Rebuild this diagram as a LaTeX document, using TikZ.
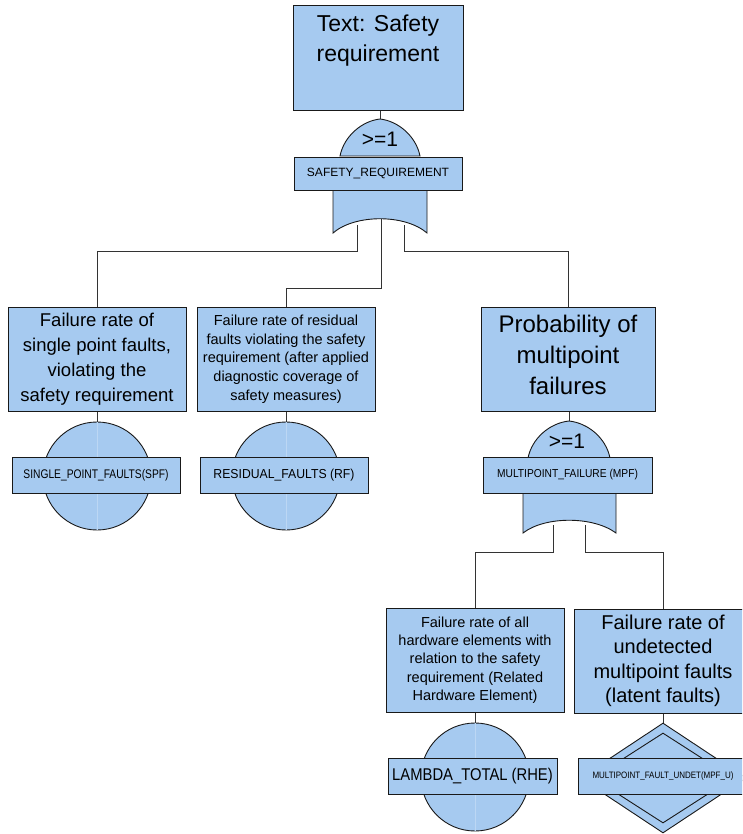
\documentclass[tikz,border=0pt]{standalone}
\usepackage{fontspec}
\usepackage{graphicx}
\setmainfont{Liberation Sans}
\usetikzlibrary{shapes.geometric,backgrounds}

\definecolor{gatefill}{RGB}{166,202,240}

\tikzset{
  conn/.style={draw=black!80, line width=0.9pt},
  outline/.style={draw=black!90, line width=0.9pt, fill=gatefill},
  box/.style={outline, rectangle, minimum width=178pt, minimum height=104pt,
    inner sep=0pt, align=center},
  txt/.style={inner sep=0pt, align=center},
  lbl/.style={outline, rectangle, minimum width=168pt, minimum height=36pt, inner sep=0pt},
  evcirc/.style={outline, circle, minimum size=108pt, inner sep=0pt},
  faint/.style={draw=gatefill!75!white, line width=0.7pt},
  sym/.style={inner sep=0pt, font=\fontsize{21}{24}\selectfont},
}

\begin{document}
\begin{tikzpicture}[x=1pt, y=-1pt]
\useasboundingbox (0,0) rectangle (742,834);
\clip (0,0) rectangle (742,834);

% ---------- top event and its OR gate ----------
\node[box, minimum width=170pt, minimum height=105pt] (top) at (378,57.5) {};
\node[txt, font=\fontsize{23}{30}\selectfont] (toptxt) at (378,41) {Text: Safety\\requirement};

\coordinate (g1apex) at (380,119);
\coordinate (g1a) at (357,225);
\coordinate (g1b) at (381,219);
\coordinate (g1c) at (404,225);
\path[outline] (340,156) .. controls (344,136) and (362,121) .. (380,119)
  .. controls (398,121) and (416,136) .. (420,156) -- cycle;
\path[outline] (333,189) -- (333,233) .. controls (355,214) and (405,214) .. (427,233) -- (427,189);
\node[sym] (g1sym) at (380,139) {>=1};
\node[lbl, minimum height=33pt] (g1lbl) at (378,173.5) {\fontsize{12}{14}\selectfont SAFETY\_REQUIREMENT};

% ---------- second level events ----------
\node[box, font=\fontsize{18.5}{25}\selectfont] (spf) at (97,359)
  {Failure rate of\\single point faults,\\violating the\\safety requirement};
\node[box, font=\fontsize{14.5}{18.7}\selectfont] (rf) at (286,359)
  {Failure rate of residual\\faults violating the safety\\requirement (after applied\\diagnostic coverage of\\safety measures)};
\node[box, minimum width=174pt] (pmf) at (568,359) {};
\node[txt, font=\fontsize{24}{31}\selectfont] (pmftxt) at (568,355) {Probability of\\multipoint\\failures};

% basic events under the first two boxes
\node[evcirc] (c1) at (97,476) {};
\node[evcirc] (c2) at (286,476) {};
\draw[faint] (c1.north) -- (c1.south);
\draw[faint] (c2.north) -- (c2.south);
\node[lbl] (l1) at (96,475) {\scalebox{0.82}[1]{\fontsize{12.5}{14}\selectfont SINGLE\_POINT\_FAULTS(SPF)}};
\node[lbl] (l2) at (284,475) {\scalebox{0.94}[1]{\fontsize{13}{15}\selectfont RESIDUAL\_FAULTS (RF)}};

% ---------- OR gate under the multipoint box ----------
\coordinate (g2apex) at (569,421);
\coordinate (g2a) at (553,525);
\coordinate (g2b) at (585,525);
\path[outline] (528,458) .. controls (532,438) and (550,423) .. (569,421)
  .. controls (588,423) and (606,438) .. (610,458) -- cycle;
\path[outline] (523,492) -- (523,533) .. controls (545,516) and (593,516) .. (616,533) -- (616,492);
\node[sym] (g2sym) at (567,441) {>=1};
\node[lbl, minimum width=169pt] (g2lbl) at (567.5,475) {\scalebox{0.89}[1]{\fontsize{11.5}{13}\selectfont MULTIPOINT\_FAILURE (MPF)}};

% ---------- third level events ----------
\node[box, font=\fontsize{14.5}{18.3}\selectfont] (lam) at (475,660)
  {Failure rate of all\\hardware elements with\\relation to the safety\\requirement (Related\\Hardware Element)};
\node[box, font=\fontsize{20}{24.5}\selectfont] (lat) at (663,661)
  {Failure rate of\\undetected\\multipoint faults\\(latent faults)};

\node[evcirc] (c3) at (475,777) {};
\draw[faint] (c3.north) -- (c3.south);
\node[lbl, minimum width=169pt] (l3) at (472.5,776) {\scalebox{0.87}[1]{\fontsize{17}{19}\selectfont LAMBDA\_TOTAL (RHE)}};

\node[outline, diamond, minimum width=166pt, minimum height=110pt, inner sep=0pt] (dia) at (663,778) {};
\node[draw=black!90, line width=0.9pt, diamond, minimum width=140pt, minimum height=90pt, inner sep=0pt] (diain) at (663,778) {};
\node[lbl, minimum width=170pt] (l4) at (663,776) {\scalebox{0.86}[1]{\fontsize{9.3}{11}\selectfont MULTIPOINT\_FAULT\_UNDET(MPF\_U)}};

% ---------- connectors ----------
\begin{pgfonlayer}{background}
\draw[conn] (g1apex |- top.south) -- (g1apex);
\draw[conn] (g1a) -- ++(0,26) -| (spf.north);
\draw[conn] (g1b) -- ++(0,69) -| (rf.north);
\draw[conn] (g1c) -- ++(0,26) -| (pmf.north);
\draw[conn] (spf.south) -- (c1.north);
\draw[conn] (rf.south) -- (c2.north);
\draw[conn] (g2apex |- pmf.south) -- (g2apex);
\draw[conn] (g2a) -- ++(0,27) -| (lam.north);
\draw[conn] (g2b) -- ++(0,27) -| (lat.north);
\draw[conn] (lam.south) -- (c3.north);
\draw[conn] (lat.south) -- (dia.north);
\end{pgfonlayer}
\end{tikzpicture}
\end{document}
